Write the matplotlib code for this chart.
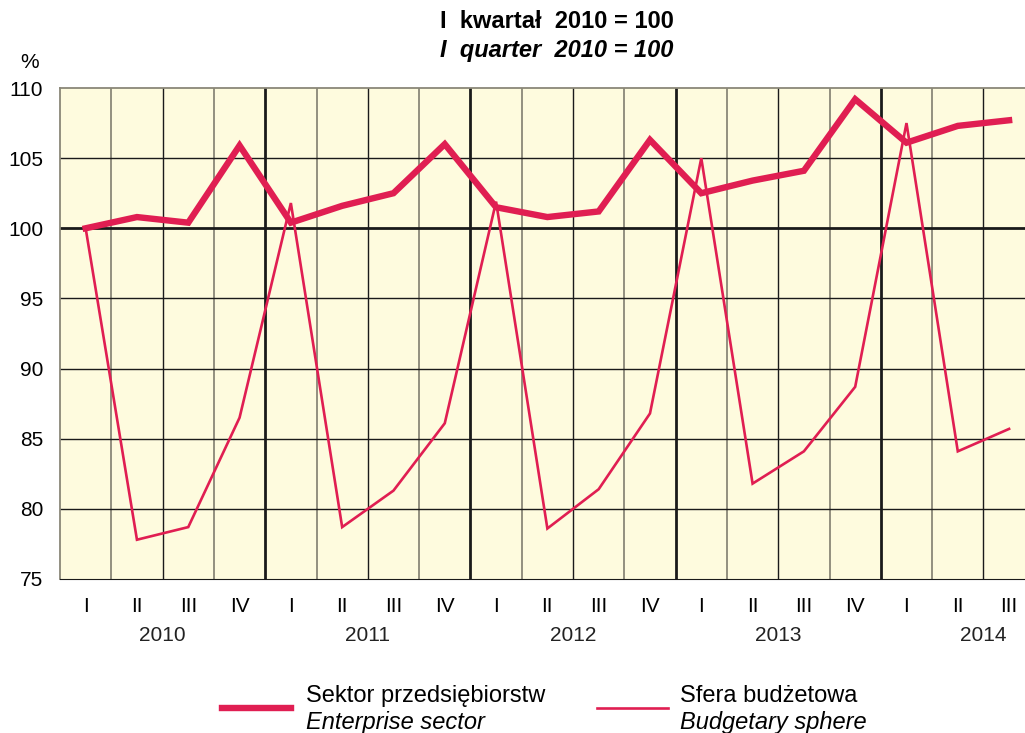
import matplotlib.pyplot as plt
from matplotlib.lines import Line2D

plt.rcParams['font.family'] = ['Liberation Sans', 'DejaVu Sans']

quarters = ['I', 'II', 'III', 'IV'] * 4 + ['I', 'II', 'III']
years = ['2010', '2011', '2012', '2013', '2014']
enterprise = [100.0, 100.8, 100.4, 105.9, 100.4, 101.6, 102.5, 106.0, 101.5, 100.8,
              101.2, 106.3, 102.5, 103.4, 104.1, 109.2, 106.1, 107.3, 107.7]
budgetary = [100.0, 77.8, 78.7, 86.5, 101.8, 78.7, 81.3, 86.1, 101.9, 78.6,
             81.4, 86.8, 105.0, 81.8, 84.1, 88.7, 107.5, 84.1, 85.7]

red = '#e01e52'
x = list(range(len(quarters)))

fig = plt.figure(figsize=(10.25, 7.33), dpi=100)
ax = fig.add_axes([60/1025, 1-579/733, 1-60/1025, (579-88)/733])
ax.set_facecolor('#fefbde')

ax.set_xlim(-0.5, 18.31)
ax.set_ylim(75, 110)

# vertical grid: grey / black alternating, thick at year boundaries
for k in range(18):
    if k % 4 == 3:
        ax.axvline(k + 0.5, color='#1a1a1a', lw=2.0, zorder=1)
    elif k % 4 == 1:
        ax.axvline(k + 0.5, color='#1a1a1a', lw=1.0, zorder=1)
    else:
        ax.axvline(k + 0.5, color='#8a8778', lw=1.3, zorder=1)
for v in range(80, 110, 5):
    ax.axhline(v, color='#1a1a1a', lw=2.0 if v == 100 else 1.0, zorder=1)

for s in ['top', 'left']:
    ax.spines[s].set_color('#8a8778')
    ax.spines[s].set_linewidth(1.3)
ax.spines['bottom'].set_color('#1a1a1a')
ax.spines['right'].set_visible(False)

ax.plot(x, enterprise, color=red, lw=4.6, solid_joinstyle='miter', zorder=3)
ax.plot(x, budgetary, color=red, lw=1.9, solid_joinstyle='miter', zorder=3)

ax.set_yticks(range(75, 111, 5))
ax.set_yticklabels([str(v) for v in range(75, 111, 5)], fontsize=15)
ax.set_xticks(x)
ax.set_xticklabels(quarters, fontsize=15)
ax.tick_params(length=0)
ax.tick_params(axis='x', pad=13)
ax.tick_params(axis='y', pad=12)

for i, yr in enumerate(years):
    ax.text(4 * i + 1.5, 71.0, yr, ha='center', va='center', fontsize=15, color='#222222')

fig.text(30/1025, 1-62/733, '%', ha='center', va='center', fontsize=15)
fig.text(557/1025, 1-21/733, 'I  kwartał  2010 = 100', ha='center', va='center',
         fontsize=17, fontweight='bold')
fig.text(557/1025, 1-50/733, 'I  quarter  2010 = 100', ha='center', va='center',
         fontsize=17, fontweight='bold', style='italic')

# legend
fig.add_artist(Line2D([222/1025, 291/1025], [1-708/733, 1-708/733], color=red, lw=4.6))
fig.text(306/1025, 1-696/733, 'Sektor przedsiębiorstw', va='center', fontsize=17)
fig.text(306/1025, 1-722/733, 'Enterprise sector', va='center', fontsize=17, style='italic')
fig.add_artist(Line2D([597/1025, 668/1025], [1-708/733, 1-708/733], color=red, lw=1.9))
fig.text(680/1025, 1-696/733, 'Sfera budżetowa', va='center', fontsize=17)
fig.text(680/1025, 1-722/733, 'Budgetary sphere', va='center', fontsize=17, style='italic')

fig.savefig('out.png', dpi=100)
